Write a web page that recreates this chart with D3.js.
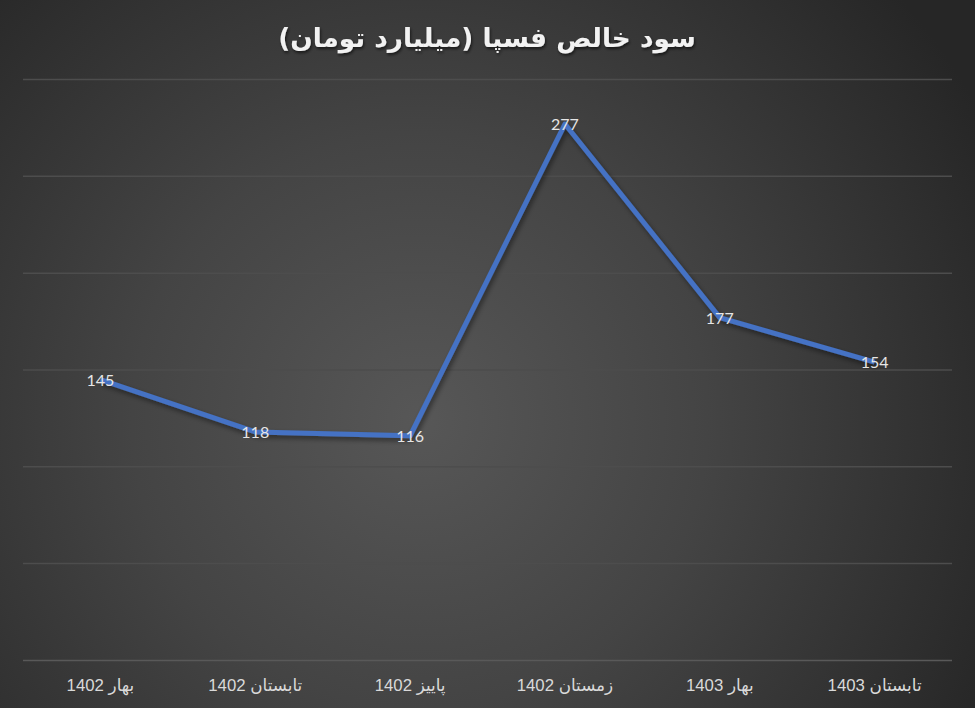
<!DOCTYPE html>
<html><head><meta charset="utf-8">
<script src="https://cdn.jsdelivr.net/npm/d3@7"></script>
<style>html,body{margin:0;padding:0;background:#2b2b2b;}svg{display:block;}</style>
</head><body>
<svg id="chart" width="975" height="708"></svg>
<script>
const title = "سود خالص فسپا (میلیارد تومان)";
const categories = ["بهار 1402","تابستان 1402","پاییز 1402","زمستان 1402","بهار 1403","تابستان 1403"];
const values = [145,118,116,277,177,154];
const yTicks = [0,50,100,150,200,250,300];

const W=975,H=708;
const svg=d3.select("#chart");
const defs=svg.append("defs");
const rg=defs.append("radialGradient").attr("id","bg").attr("gradientUnits","userSpaceOnUse")
  .attr("cx",420).attr("cy",420).attr("r",640);
rg.append("stop").attr("offset","0").attr("stop-color","#575757");
rg.append("stop").attr("offset","0.45").attr("stop-color","#444444");
rg.append("stop").attr("offset","1").attr("stop-color","#262626");
const f=defs.append("filter").attr("id","sh").attr("x","-20%").attr("y","-20%").attr("width","140%").attr("height","140%");
f.append("feDropShadow").attr("dx",2).attr("dy",3).attr("stdDeviation",2.5).attr("flood-color","#000").attr("flood-opacity",0.45);
const ft=defs.append("filter").attr("id","tsh").attr("x","-10%").attr("y","-30%").attr("width","120%").attr("height","160%");
ft.append("feDropShadow").attr("dx",1).attr("dy",2).attr("stdDeviation",1.5).attr("flood-color","#000").attr("flood-opacity",0.6);

svg.append("rect").attr("width",W).attr("height",H).attr("fill","url(#bg)");

const x=d3.scaleBand().domain(categories).range([23,952]);
const y=d3.scaleLinear().domain([0,300]).range([660.4,79.5]);

svg.append("g").selectAll("line").data(yTicks).join("line")
  .attr("x1",23).attr("x2",952).attr("y1",d=>y(d)).attr("y2",d=>y(d))
  .attr("stroke",d=>d===0?"#595959":"#4d4d4d").attr("stroke-width",1.5);

const xAxis=d3.axisBottom(x).tickSize(0).tickPadding(0);
const gx=svg.append("g").attr("transform","translate(0,660.4)").call(xAxis);
gx.select(".domain").remove();
gx.selectAll("text").attr("y",31).attr("dy",0).attr("fill","#d9d9d9")
  .attr("font-family","'Liberation Sans', Arial, 'DejaVu Sans', sans-serif").attr("font-size",16.8)
  .attr("direction","rtl").attr("text-anchor","middle");

const line=d3.line().x((d,i)=>x(categories[i])+x.bandwidth()/2).y(d=>y(d));
svg.append("path").datum(values).attr("d",line).attr("fill","none")
  .attr("stroke","#4472C4").attr("stroke-width",5).attr("stroke-linejoin","round").attr("filter","url(#sh)");

svg.append("g").selectAll("text").data(values).join("text")
  .attr("x",(d,i)=>x(categories[i])+x.bandwidth()/2).attr("y",d=>y(d)+6)
  .attr("text-anchor","middle").attr("fill","#e6e6e6")
  .attr("font-family","Lato, 'Open Sans', sans-serif").attr("font-size",16)
  .text(d=>d);

svg.append("text").attr("x",487).attr("y",47).attr("text-anchor","middle").attr("direction","rtl")
  .attr("fill","#f2f2f2").attr("font-family","'DejaVu Sans', sans-serif").attr("font-weight","bold")
  .attr("font-size",26.3).attr("filter","url(#tsh)").text(title);
</script>
</body></html>
